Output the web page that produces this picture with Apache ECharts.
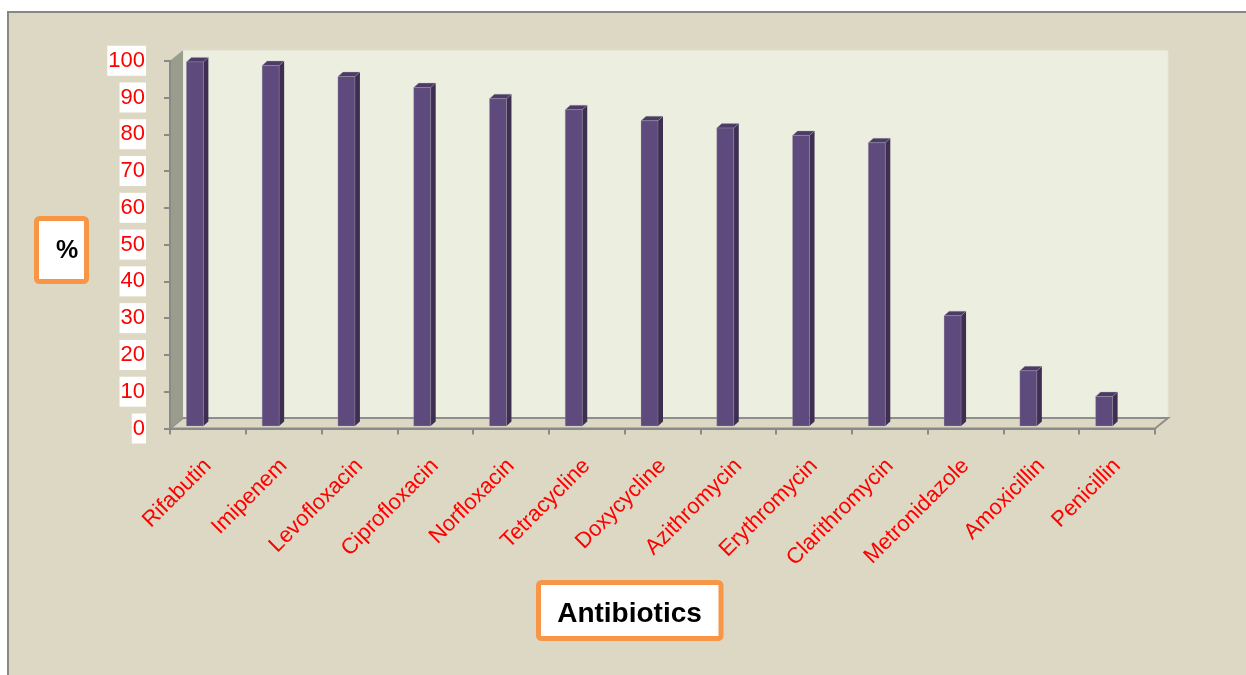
<!DOCTYPE html>
<html><head><meta charset="utf-8">
<script src="https://cdn.jsdelivr.net/npm/echarts@6/dist/echarts.min.js"></script>
<style>html,body{margin:0;padding:0;background:#fff;} #c{width:1246px;height:675px;}</style>
</head><body><div id="c"></div>
<script>
const categories = ['Rifabutin','Imipenem','Levofloxacin','Ciprofloxacin','Norfloxacin','Tetracycline','Doxycycline','Azithromycin','Erythromycin','Clarithromycin','Metronidazole','Amoxicillin','Penicillin'];
const resistance = [99, 98, 95, 92, 89, 86, 83, 81, 79, 77, 30, 15, 8];
const yTickValues = [0, 10, 20, 30, 40, 50, 60, 70, 80, 90, 100];
const yAxisTitle = '%';
const xAxisTitle = 'Antibiotics';

const FONT = '"Liberation Sans", Arial, sans-serif';
const WALL_DX = 13, WALL_DY = -10.5;

function renderWalls(params, api) {
  const cs = params.coordSys;
  const x0 = cs.x, x1 = cs.x + cs.width, yT = cs.y, yB = cs.y + cs.height;
  const dx = WALL_DX, dy = WALL_DY;
  return {type: 'group', children: [
    {type: 'rect', shape: {x: x0 + dx, y: yT + dy, width: cs.width, height: cs.height},
      style: {fill: '#ECEFDF', stroke: '#E3E6D6', lineWidth: 1}},
    {type: 'polygon', shape: {points: [[x0, yB], [x0 + dx, yB + dy], [x1 + dx, yB + dy], [x1, yB]]},
      style: {fill: '#DCD8C4', stroke: '#8E8E8E', lineWidth: 2}},
    {type: 'polygon', shape: {points: [[x0, yT], [x0 + dx, yT + dy], [x0 + dx, yB + dy], [x0, yB]]},
      style: {fill: '#9A9C8C'}}
  ]};
}

function renderBar(params, api) {
  const i = api.value(0), v = api.value(1);
  const top = api.coord([i, v]);
  const base = api.coord([i, 0]);
  const bw = api.size([1, 0])[0];
  const s = bw / 75.77;
  const left = top[0] - 21.5 * s, w = 17 * s;
  const shiftY = -2.5;
  const yTop = top[1] + shiftY, yBot = base[1] + shiftY;
  const dx = 5 * s, dy = -4.5 * s;
  return {type: 'group', children: [
    {type: 'polygon', shape: {points: [[left + w, yTop], [left + w + dx, yTop + dy], [left + w + dx, yBot + dy], [left + w, yBot]]},
      style: {fill: '#3D2E52'}},
    {type: 'polygon', shape: {points: [[left, yTop], [left + dx, yTop + dy], [left + w + dx, yTop + dy], [left + w, yTop]]},
      style: {fill: '#4C3B68', stroke: 'rgba(170,170,170,0.6)', lineWidth: 0.6}},
    {type: 'rect', shape: {x: left, y: yTop, width: w, height: yBot - yTop},
      style: {fill: '#5E4A7C', stroke: 'rgba(170,170,170,0.5)', lineWidth: 0.6}}
  ]};
}

const chart = echarts.init(document.getElementById('c'), null, {renderer: 'canvas'});
chart.setOption({
  animation: false,
  backgroundColor: '#ffffff',
  grid: {left: 170, top: 60.7, width: 985, height: 367.8, containLabel: false},
  xAxis: {
    type: 'category', data: categories, z: 3,
    axisLine: {show: true, lineStyle: {color: '#8A8A8A', width: 2}},
    axisTick: {show: true, length: 6, interval: 0, lineStyle: {color: '#8A8A8A', width: 2}},
    axisLabel: {interval: 0, rotate: 45, color: '#FF0000', fontSize: 22, fontFamily: FONT,
      margin: 34, padding: [20, 0, 0, 0]},
    splitLine: {show: false}
  },
  yAxis: {
    type: 'value', min: yTickValues[0], max: yTickValues[yTickValues.length - 1],
    interval: yTickValues[1] - yTickValues[0], z: 3,
    axisLine: {show: true, lineStyle: {color: '#8A8A8A', width: 2}},
    axisTick: {show: true, length: 6, lineStyle: {color: '#8A8A8A', width: 2}},
    axisLabel: {color: '#FF0000', fontSize: 22, fontFamily: FONT, backgroundColor: '#FFFFFF',
      padding: [4, 1, 4, 1], margin: 24},
    splitLine: {show: false}
  },
  graphic: [
    {type: 'rect', z: -10, silent: true, shape: {x: 8, y: 12, width: 1250, height: 672},
      style: {fill: '#DDD8C3', stroke: '#878787', lineWidth: 2}},
    {type: 'rect', z: 5, shape: {x: 36.5, y: 218.5, width: 50, height: 63, r: 3},
      style: {fill: '#FFFFFF', stroke: '#F79646', lineWidth: 5}},
    {type: 'text', z: 6, x: 67, y: 251,
      style: {text: yAxisTitle, font: 'bold 25px ' + FONT, fill: '#000000', align: 'center', verticalAlign: 'middle'}},
    {type: 'rect', z: 5, shape: {x: 538.5, y: 582.5, width: 182.5, height: 56, r: 3},
      style: {fill: '#FFFFFF', stroke: '#F79646', lineWidth: 5}},
    {type: 'text', z: 6, x: 629.5, y: 614,
      style: {text: xAxisTitle, font: 'bold 28px ' + FONT, fill: '#000000', align: 'center', verticalAlign: 'middle'}}
  ],
  series: [
    {type: 'custom', name: 'walls', z: 1, silent: true, renderItem: renderWalls, data: [[0, 0]], encode: {x: 0, y: 1}},
    {type: 'custom', name: 'Resistance', z: 4, renderItem: renderBar,
      data: resistance.map((v, i) => [i, v]), encode: {x: 0, y: 1}}
  ]
});
</script></body></html>
